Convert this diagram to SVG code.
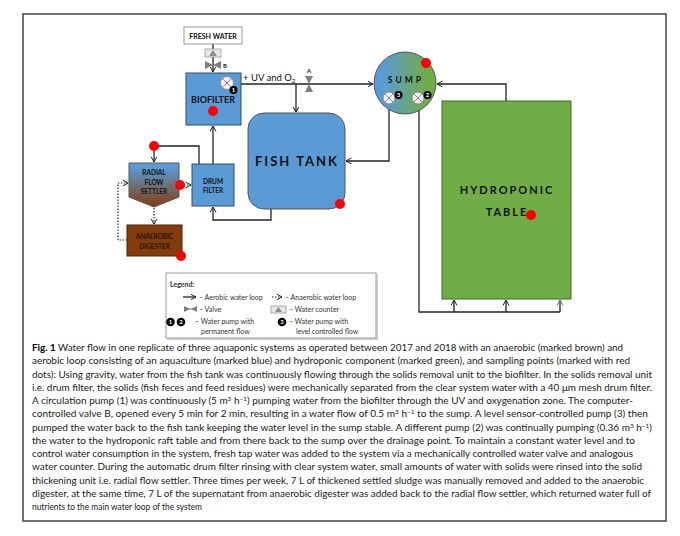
<svg xmlns="http://www.w3.org/2000/svg" width="680" height="536" viewBox="0 0 680 536">
<defs>
<style>
.t{font-family:Lato,"Open Sans","Liberation Sans",sans-serif;}
.lbl{font-family:Lato,"Open Sans","Liberation Sans",sans-serif;font-weight:bold;fill:#111;text-anchor:middle;}
.ln{fill:none;stroke:#222;stroke-width:1.3;}
.dot{fill:none;stroke:#333;stroke-width:1.2;stroke-dasharray:1.5 1.5;}
.red{fill:#ff0000;}
.pump{fill:#f2f2f2;stroke:#8c8c8c;stroke-width:1;}
.px{stroke:#8c8c8c;stroke-width:1;}
.badge{fill:#000;}
.bt{font-family:Lato,"Liberation Sans",sans-serif;font-weight:bold;font-size:6px;fill:#fff;text-anchor:middle;}
.cap{font-family:Lato,"Open Sans","Liberation Sans",sans-serif;font-size:9.4px;fill:#222;}
.leg{font-family:Lato,"Open Sans","Liberation Sans",sans-serif;font-size:7px;fill:#333;}
.valve{fill:#7f7f7f;}
</style>
<marker id="arr" markerWidth="8" markerHeight="8" refX="5.5" refY="3" orient="auto" markerUnits="userSpaceOnUse">
<path d="M0,0 L5.5,3 L0,6" fill="none" stroke="#222" stroke-width="1"/>
</marker>
<marker id="arrg" markerWidth="8" markerHeight="8" refX="5.5" refY="3" orient="auto" markerUnits="userSpaceOnUse">
<path d="M0,0 L5.5,3 L0,6" fill="none" stroke="#777" stroke-width="1"/>
</marker>
<linearGradient id="gsump" x1="0" y1="0" x2="1" y2="0">
<stop offset="0.15" stop-color="#5b9bd5"/>
<stop offset="0.85" stop-color="#70ad47"/>
</linearGradient>
<linearGradient id="gset" x1="0" y1="0" x2="0" y2="1">
<stop offset="0.1" stop-color="#5b9bd5"/>
<stop offset="1" stop-color="#843c0c"/>
</linearGradient>
</defs>
<rect x="0" y="0" width="680" height="536" fill="#fff"/>
<rect x="23" y="14" width="643" height="507" fill="none" stroke="#444" stroke-width="1.5"/>

<g id="connectors">
<path class="ln" d="M213,44 V72" marker-end="url(#arr)"/>
<path class="ln" d="M234,84 H373" marker-end="url(#arr)"/>
<path class="ln" d="M296,84 V112" marker-end="url(#arr)"/>
<path class="ln" d="M389,104 V161 H346" marker-end="url(#arr)"/>
<path class="ln" d="M419,104 V312 H560" stroke="#444"/>
<path class="ln" d="M454,312 V300" stroke-width="2" marker-end="url(#arr)"/>
<path class="ln" d="M506,312 V300" stroke-width="2" marker-end="url(#arr)"/>
<path class="ln" d="M560,312 V300" stroke="#777" marker-end="url(#arrg)"/>
<path class="ln" d="M506,101 V84 H437" marker-end="url(#arr)"/>
<path class="ln" d="M271,209 V220 H213 V207" marker-end="url(#arr)"/>
<path class="ln" d="M213,164 V126" marker-end="url(#arr)"/>
<path class="ln" d="M199,164 V146 H154 V162" marker-end="url(#arr)"/>
<path class="dot" d="M181,185 H191" marker-end="url(#arr)"/>
<path class="dot" d="M154,208 V224" marker-end="url(#arr)"/>
<path class="dot" d="M127,240 H118 V183 H128" marker-end="url(#arr)"/>
</g>

<g id="fresh-water">
<rect x="184" y="27" width="58" height="17" fill="#fff" stroke="#999" stroke-width="1"/>
<text class="lbl" x="213" y="38.5" font-size="7">FRESH WATER</text>
</g>
<g id="water-counter">
<rect x="205" y="49" width="16" height="8" fill="#e7e6e6" stroke="#999" stroke-width="0.8"/>
<path d="M213,50 L217,56 L209,56 Z" fill="#8c8c8c"/>
</g>
<g id="valve-b">
<path class="valve" d="M205,61 L213,65 L205,69 Z M221,61 L213,65 L221,69 Z"/>
<text class="lbl" x="225" y="68" font-size="6">B</text>
</g>
<g id="biofilter">
<rect x="186" y="73" width="55" height="52" fill="#5b9bd5" stroke="#2f4f6f" stroke-width="1"/>
<text class="lbl" x="213" y="103" font-size="9">BIOFILTER</text>
<circle class="red" cx="213" cy="111" r="5"/>
<circle class="pump" cx="227" cy="83" r="6.5"/>
<path class="px" d="M222.4,78.4 L231.6,87.6 M231.6,78.4 L222.4,87.6"/>
<circle class="badge" cx="233.5" cy="90" r="4"/>
<text class="bt" x="233.5" y="92.2">1</text>
</g>
<g id="uv-label">
<text class="t" x="243" y="81" font-size="9.5" fill="#111">+ UV and O<tspan font-size="6.5" dy="1.5">2</tspan></text>
</g>
<g id="valve-a">
<path class="valve" d="M305,76 L313,76 L309,84 Z M305,92 L313,92 L309,84 Z"/>
<text class="lbl" x="309" y="73" font-size="6">A</text>
</g>
<g id="sump">
<circle cx="405" cy="83" r="31" fill="url(#gsump)" stroke="#555" stroke-width="1"/>
<text class="lbl" x="406" y="82.5" font-size="8.5" letter-spacing="3">SUMP</text>
<circle class="red" cx="426" cy="63" r="5"/>
<circle class="pump" cx="389" cy="98" r="6"/>
<path class="px" d="M384.8,93.8 L393.2,102.2 M393.2,93.8 L384.8,102.2"/>
<circle class="badge" cx="398.5" cy="95" r="4"/>
<text class="bt" x="398.5" y="97.2">3</text>
<circle class="pump" cx="418" cy="98" r="6"/>
<path class="px" d="M413.8,93.8 L422.2,102.2 M422.2,93.8 L413.8,102.2"/>
<circle class="badge" cx="427.5" cy="95" r="4"/>
<text class="bt" x="427.5" y="97.2">2</text>
</g>
<g id="fish-tank">
<rect x="248" y="113" width="97" height="96" rx="16" fill="#5b9bd5" stroke="#555" stroke-width="1"/>
<text class="lbl" x="297" y="166" font-size="13" letter-spacing="2">FISH TANK</text>
<circle class="red" cx="340" cy="204" r="5"/>
</g>
<g id="hydroponic-table">
<rect x="442" y="101" width="129" height="198" fill="#70ad47" stroke="#3d6b27" stroke-width="1"/>
<text class="lbl" x="507" y="194" font-size="11" letter-spacing="2">HYDROPONIC</text>
<text class="lbl" x="507" y="216" font-size="11" letter-spacing="2">TABLE</text>
<circle class="red" cx="531" cy="215" r="5"/>
</g>
<g id="drum-filter">
<rect x="192" y="164" width="42" height="42" fill="#5b9bd5" stroke="#2f4f6f" stroke-width="1"/>
<text class="lbl" x="213" y="183.5" font-size="6.5">DRUM</text>
<text class="lbl" x="213" y="192.5" font-size="6.5">FILTER</text>
</g>
<g id="radial-flow-settler">
<path d="M129,163 H179 V197 L154,207 L129,197 Z" fill="url(#gset)" stroke="#555" stroke-width="1"/>
<text class="lbl" x="154" y="174.5" font-size="6.5">RADIAL</text>
<text class="lbl" x="154" y="184.5" font-size="6.5">FLOW</text>
<text class="lbl" x="154" y="194" font-size="6.5">SETTLER</text>
<circle class="red" cx="180" cy="185" r="5"/>
<circle class="red" cx="154" cy="146" r="5"/>
</g>
<g id="anaerobic-digester">
<rect x="127" y="225" width="55" height="31" fill="#843c0c" stroke="#4a2206" stroke-width="1"/>
<text class="lbl" x="154.5" y="238.5" font-size="6.5" style="fill:#2a1205">ANAEROBIC</text>
<text class="lbl" x="154.5" y="248.5" font-size="6.5" style="fill:#2a1205">DIGESTER</text>
<circle class="red" cx="181" cy="256" r="5"/>
</g>

<g id="legend">
<rect x="166" y="273" width="210" height="65" fill="#fff" stroke="#999" stroke-width="1"/>
<path d="M167,339 H377 V274" fill="none" stroke="#bbb" stroke-width="1.5"/>
<text class="leg" x="170" y="287" font-weight="bold" fill="#111">Legend:</text>
<path class="ln" d="M183,297 H196" stroke-width="1" marker-end="url(#arr)"/>
<text class="leg" x="199" y="299.5">– Aerobic water loop</text>
<path class="dot" d="M272,297 H282" stroke-width="1" marker-end="url(#arr)"/>
<text class="leg" x="285" y="299.5">– Anaerobic water loop</text>
<path class="valve" d="M184,306 L190,309 L184,312 Z M197,306 L191,309 L197,312 Z"/>
<path d="M184,309 H197" stroke="#7f7f7f" stroke-width="1"/>
<text class="leg" x="199" y="311.5">– Valve</text>
<rect x="271" y="306" width="15" height="7" fill="#e7e6e6" stroke="#999" stroke-width="0.8"/>
<path d="M278.5,307 L282,312 L275,312 Z" fill="#8c8c8c"/>
<text class="leg" x="289" y="311.5">– Water counter</text>
<circle class="badge" cx="170.5" cy="322" r="4.3"/>
<text class="bt" x="170.5" y="324.2">1</text>
<circle class="badge" cx="181" cy="322" r="4.3"/>
<text class="bt" x="181" y="324.2">2</text>
<text class="leg" x="195" y="324">– Water pump with</text>
<text class="leg" x="201" y="333.5">permanent flow</text>
<circle class="badge" cx="282" cy="322" r="4.3"/>
<text class="bt" x="282" y="324.2">3</text>
<text class="leg" x="289" y="324">– Water pump with</text>
<text class="leg" x="296" y="333.5">level controlled flow</text>
</g>

<g id="caption">
<text class="cap" x="32" y="351" textLength="591" lengthAdjust="spacingAndGlyphs"><tspan font-weight="bold" fill="#000">Fig. 1</tspan> Water flow in one replicate of three aquaponic systems as operated between 2017 and 2018 with an anaerobic (marked brown) and</text>
<text class="cap" x="32" y="364.25" textLength="598" lengthAdjust="spacingAndGlyphs">aerobic loop consisting of an aquaculture (marked blue) and hydroponic component (marked green), and sampling points (marked with red</text>
<text class="cap" x="32" y="377.5" textLength="620" lengthAdjust="spacingAndGlyphs">dots): Using gravity, water from the fish tank was continuously flowing through the solids removal unit to the biofilter. In the solids removal unit</text>
<text class="cap" x="32" y="390.75" textLength="620" lengthAdjust="spacingAndGlyphs">i.e. drum filter, the solids (fish feces and feed residues) were mechanically separated from the clear system water with a 40 μm mesh drum filter.</text>
<text class="cap" x="32" y="404" textLength="601" lengthAdjust="spacingAndGlyphs">A circulation pump (1) was continuously (5 m<tspan font-size="6" dy="-3">3</tspan><tspan dy="3"> h</tspan><tspan font-size="6" dy="-3">−1</tspan><tspan dy="3">) pumping water from the biofilter through the UV and oxygenation zone. The computer-</tspan></text>
<text class="cap" x="32" y="417.25" textLength="616" lengthAdjust="spacingAndGlyphs">controlled valve B, opened every 5 min for 2 min, resulting in a water flow of 0.5 m<tspan font-size="6" dy="-3">3</tspan><tspan dy="3"> h</tspan><tspan font-size="6" dy="-3">−1</tspan><tspan dy="3"> to the sump. A level sensor-controlled pump (3) then</tspan></text>
<text class="cap" x="32" y="430.5" textLength="620" lengthAdjust="spacingAndGlyphs">pumped the water back to the fish tank keeping the water level in the sump stable. A different pump (2) was continually pumping (0.36 m<tspan font-size="6" dy="-3">3</tspan><tspan dy="3"> h</tspan><tspan font-size="6" dy="-3">−1</tspan><tspan dy="3">)</tspan></text>
<text class="cap" x="32" y="443.75" textLength="603" lengthAdjust="spacingAndGlyphs">the water to the hydroponic raft table and from there back to the sump over the drainage point. To maintain a constant water level and to</text>
<text class="cap" x="32" y="457" textLength="601" lengthAdjust="spacingAndGlyphs">control water consumption in the system, fresh tap water was added to the system via a mechanically controlled water valve and analogous</text>
<text class="cap" x="32" y="470.25" textLength="610" lengthAdjust="spacingAndGlyphs">water counter. During the automatic drum filter rinsing with clear system water, small amounts of water with solids were rinsed into the solid</text>
<text class="cap" x="32" y="483.5" textLength="612" lengthAdjust="spacingAndGlyphs">thickening unit i.e. radial flow settler. Three times per week, 7 L of thickened settled sludge was manually removed and added to the anaerobic</text>
<text class="cap" x="32" y="496.75" textLength="619" lengthAdjust="spacingAndGlyphs">digester, at the same time, 7 L of the supernatant from anaerobic digester was added back to the radial flow settler, which returned water full of</text>
<text class="cap" x="32" y="510" textLength="170" lengthAdjust="spacingAndGlyphs">nutrients to the main water loop of the system</text>
</g>
</svg>
